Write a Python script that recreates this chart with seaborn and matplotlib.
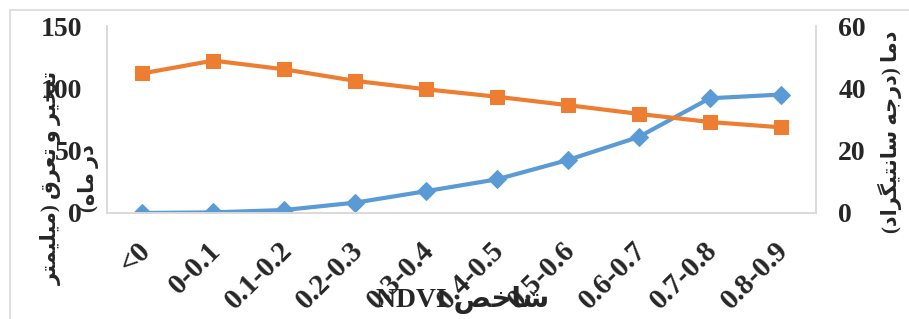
import re
import matplotlib
matplotlib.use("Agg")
import matplotlib.pyplot as plt
import matplotlib.transforms as mtransforms
import seaborn as sns
import pandas as pd
from matplotlib.lines import Line2D

# data
categories = ['<0', '0-0.1', '0.1-0.2', '0.2-0.3', '0.3-0.4', '0.4-0.5',
              '0.5-0.6', '0.6-0.7', '0.7-0.8', '0.8-0.9']
evapo = [0, 0.5, 2.4, 8.3, 17.5, 27, 42.5, 61, 92, 95]          # left axis (mm/month)
temp = [44.8, 48.9, 46.1, 42.4, 39.7, 37.3, 34.6, 31.8, 29.2, 27.5]  # right axis (deg C)

left_ticks = [0, 50, 100, 150]
right_ticks = [0, 20, 40, 60]

xlabel_txt = "شاخص NDVI"
ylabel_txt = "تبخیر و تعرق (میلیمتر\nدر ماه)"
y2label_txt = "دما (درجه سانتیگراد)"

# --- minimal Arabic/Persian shaping (no external libs available) ---
FORMS = {
    'ا': ('\uFE8D', '\uFE8E', None, None),
    'ب': ('\uFE8F', '\uFE90', '\uFE91', '\uFE92'),
    'ت': ('\uFE95', '\uFE96', '\uFE97', '\uFE98'),
    'ج': ('\uFE9D', '\uFE9E', '\uFE9F', '\uFEA0'),
    'خ': ('\uFEA5', '\uFEA6', '\uFEA7', '\uFEA8'),
    'د': ('\uFEA9', '\uFEAA', None, None),
    'ر': ('\uFEAD', '\uFEAE', None, None),
    'س': ('\uFEB1', '\uFEB2', '\uFEB3', '\uFEB4'),
    'ش': ('\uFEB5', '\uFEB6', '\uFEB7', '\uFEB8'),
    'ص': ('\uFEB9', '\uFEBA', '\uFEBB', '\uFEBC'),
    'ع': ('\uFEC9', '\uFECA', '\uFECB', '\uFECC'),
    'ق': ('\uFED5', '\uFED6', '\uFED7', '\uFED8'),
    'ل': ('\uFEDD', '\uFEDE', '\uFEDF', '\uFEE0'),
    'م': ('\uFEE1', '\uFEE2', '\uFEE3', '\uFEE4'),
    'ن': ('\uFEE5', '\uFEE6', '\uFEE7', '\uFEE8'),
    'ه': ('\uFEE9', '\uFEEA', '\uFEEB', '\uFEEC'),
    'و': ('\uFEED', '\uFEEE', None, None),
    'ی': ('\uFBFC', '\uFBFD', '\uFBFE', '\uFBFF'),
    'گ': ('\uFB92', '\uFB93', '\uFB94', '\uFB95'),
}


def shape_line(s):
    out = []
    for i, c in enumerate(s):
        if c not in FORMS:
            out.append(c)
            continue
        prev = s[i - 1] if i > 0 else ''
        nxt = s[i + 1] if i + 1 < len(s) else ''
        p = prev in FORMS and FORMS[prev][2] is not None
        n = FORMS[c][2] is not None and nxt in FORMS
        iso, fin, ini, med = FORMS[c]
        if p and n:
            out.append(med)
        elif p:
            out.append(fin)
        elif n:
            out.append(ini)
        else:
            out.append(iso)
    vis = ''.join(out)[::-1]
    vis = vis.translate(str.maketrans('()', ')('))
    # keep latin runs left-to-right
    return re.sub(r'[A-Za-z0-9]+', lambda m: m.group(0)[::-1], vis)


def rtl(s):
    return '\n'.join(shape_line(l) for l in s.split('\n'))


sns.set_theme(style="white")
plt.rcParams['font.family'] = ['Liberation Serif', 'DejaVu Sans']

df = pd.DataFrame({'cat': categories, 'x': range(len(categories)),
                   'evapo': evapo, 'temp': temp})

fig = plt.figure(figsize=(9.09, 3.19), dpi=100)
ax = fig.add_axes([107 / 909, 106 / 319, 709 / 909, 187 / 319])
ax2 = ax.twinx()

sns.lineplot(data=df, x='x', y='evapo', ax=ax, color='#5B9BD5', lw=3,
             marker='D', markersize=9, markeredgecolor='#5B9BD5')
sns.lineplot(data=df, x='x', y='temp', ax=ax2, color='#ED7D31', lw=3,
             marker='s', markersize=10, markeredgecolor='#ED7D31')

ax.set_xlim(-0.5, len(categories) - 0.5)
ax.set_ylim(0, 150)
ax2.set_ylim(0, 60)
ax.set_yticks(left_ticks)
ax2.set_yticks(right_ticks)
ax.set_xticks(range(len(categories)))
ax.set_xticklabels(categories, rotation=45, ha='right', va='top',
                   rotation_mode='anchor')

for a in (ax, ax2):
    for sp in a.spines.values():
        sp.set_color('#d9d9d9')
        sp.set_linewidth(1.2)
    a.spines['top'].set_visible(False)
    a.tick_params(length=0, labelsize=20)
    for lab in a.get_xticklabels() + a.get_yticklabels():
        lab.set_fontweight('bold')
ax.tick_params(axis='y', pad=18)
ax.tick_params(axis='x', pad=17, labelsize=21)
ax2.tick_params(axis='y', pad=16)

# nudge rotated x labels a little to the left, like the reference
shift = mtransforms.ScaledTranslation(-6 / 100, 0, fig.dpi_scale_trans)
for lab in ax.get_xticklabels():
    lab.set_transform(lab.get_transform() + shift)

ax.set_xlabel('')
ax.set_ylabel('')
ax2.set_ylabel('')

fig.text(463 / 909, 1 - 300 / 319, rtl(xlabel_txt), ha='center', va='center',
         fontsize=20, fontweight='bold')
fig.text(70 / 909, 1 - 178 / 319, rtl(ylabel_txt), ha='center', va='center',
         rotation=90, fontsize=15, fontweight='bold', linespacing=2.0,
         multialignment='center')
fig.text(890 / 909, 1 - 132 / 319, rtl(y2label_txt), ha='center', va='center',
         rotation=90, fontsize=15, fontweight='bold')

# outer chart border
fig.add_artist(Line2D([10 / 909, 10 / 909], [0, 1 - 10 / 319], transform=fig.transFigure,
                      color='#d9d9d9', lw=1.2))
fig.add_artist(Line2D([10 / 909, 1], [1 - 10 / 319, 1 - 10 / 319], transform=fig.transFigure,
                      color='#d9d9d9', lw=1.2))

fig.savefig('out.png', dpi=100)
